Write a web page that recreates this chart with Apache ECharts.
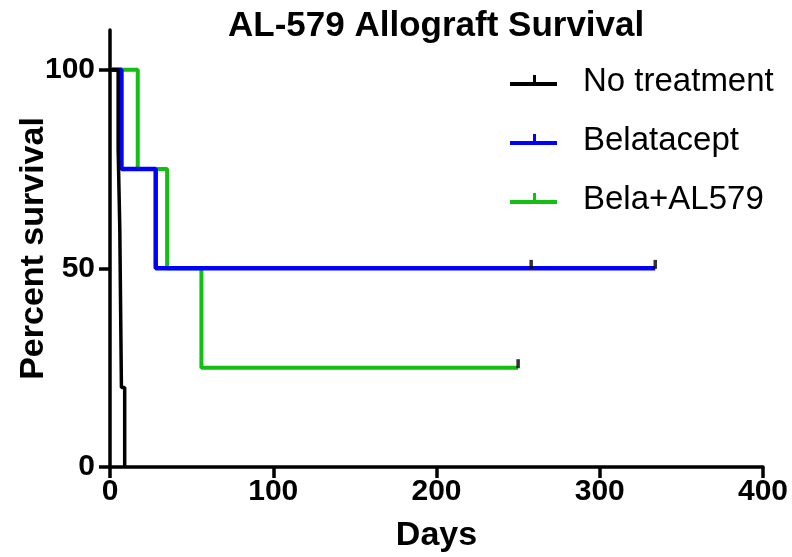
<!DOCTYPE html>
<html>
<head>
<meta charset="utf-8">
<script src="https://cdn.jsdelivr.net/npm/echarts@6/dist/echarts.min.js"></script>
<style>
html,body{margin:0;padding:0;background:#fff;}
#chart{width:792px;height:557px;}
</style>
</head>
<body>
<div id="chart"></div>
<script>
// Kaplan-Meier step data (day, percent survival)
const noTreatDays = [0, 5, 6, 7, 9];
const noTreatSurv = [100, 80, 60, 20, 0];

const belaDays = [0, 7, 28, 334];
const belaSurv = [100, 75, 50, 50];
const belaCensorDays = [258, 334];
const belaCensorSurv = [50, 50];

const comboDays = [0, 17, 35, 56, 250];
const comboSurv = [100, 75, 50, 25, 25];
const comboCensorDays = [250];
const comboCensorSurv = [25];

const seriesNames = ['No treatment', 'Belatacept', 'Bela+AL579'];
const xTicks = [0, 100, 200, 300, 400];
const yTicks = [0, 50, 100];

const FONT = '"Liberation Sans", Arial, sans-serif';
const zip = (a, b) => a.map((v, i) => [v, b[i]]);

const chart = echarts.init(document.getElementById('chart'));
const censorSymbol = 'path://M0,0h3v9h-3z';

const option = {
  backgroundColor: '#fff',
  animation: false,
  title: {
    text: 'AL-579 Allograft Survival',
    left: 228,
    top: 9,
    padding: 0,
    textStyle: { fontFamily: FONT, fontSize: 35, fontWeight: 'bold', color: '#000' }
  },
  legend: {
    orient: 'vertical',
    left: 505,
    top: 60,
    itemWidth: 47,
    itemHeight: 20,
    itemGap: 25,
    icon: 'path://M0,0 M0,7h47v4h-47z M23,0h3v8h-3z M0,14',
    data: seriesNames,
    textStyle: { fontFamily: FONT, fontSize: 33, color: '#000', lineHeight: 34, padding: [0, 0, 0, 21] }
  },
  grid: { left: 110, right: 29, top: 30, bottom: 90, containLabel: false, outerBoundsMode: 'none' },
  xAxis: {
    type: 'value',
    min: 0, max: 400, interval: 100,
    name: 'Days',
    nameLocation: 'middle',
    nameGap: 52,
    nameMoveOverlap: false,
    nameTextStyle: { fontFamily: FONT, fontSize: 34, fontWeight: 'bold', color: '#000' },
    axisLine: { onZero: false, lineStyle: { color: '#000', width: 3.5 } },
    axisTick: { show: true, length: 11, lineStyle: { color: '#000', width: 3.5 }, customValues: xTicks },
    axisLabel: { margin: 10, fontFamily: FONT, fontSize: 30, fontWeight: 'bold', color: '#000', customValues: xTicks },
    splitLine: { show: false }
  },
  yAxis: {
    type: 'value',
    min: 0, max: 110, interval: 50,
    name: 'Percent survival',
    nameLocation: 'middle',
    nameGap: 59,
    nameMoveOverlap: false,
    nameTextStyle: { fontFamily: FONT, fontSize: 34, fontWeight: 'bold', color: '#000' },
    axisLine: { show: true, onZero: false, lineStyle: { color: '#000', width: 3.5 } },
    axisTick: { show: true, length: 11, lineStyle: { color: '#000', width: 3.5 }, customValues: yTicks },
    axisLabel: { margin: 15, fontFamily: FONT, fontSize: 30, fontWeight: 'bold', color: '#000', customValues: yTicks },
    splitLine: { show: false }
  },
  series: [
    {
      name: seriesNames[2], type: 'line', step: 'end', showSymbol: false, z: 2,
      data: zip(comboDays, comboSurv),
      lineStyle: { color: '#12bf12', width: 4 }, itemStyle: { color: '#12bf12' }
    },
    {
      name: seriesNames[1], type: 'line', step: 'end', showSymbol: false, z: 3,
      data: zip(belaDays, belaSurv),
      lineStyle: { color: '#0000ff', width: 4.5 }, itemStyle: { color: '#0000ff' }
    },
    {
      name: seriesNames[0], type: 'line', step: 'end', showSymbol: false, z: 4,
      data: zip(noTreatDays, noTreatSurv),
      lineStyle: { color: '#000', width: 3.5 }, itemStyle: { color: '#000' }
    },
    {
      type: 'scatter', z: 5, silent: true,
      data: zip(belaCensorDays, belaCensorSurv).concat(zip(comboCensorDays, comboCensorSurv)),
      symbol: censorSymbol, symbolSize: [3.5, 9], symbolOffset: [0, -4],
      itemStyle: { color: '#000' }
    }
  ]
};
chart.setOption(option);
</script>
</body>
</html>
